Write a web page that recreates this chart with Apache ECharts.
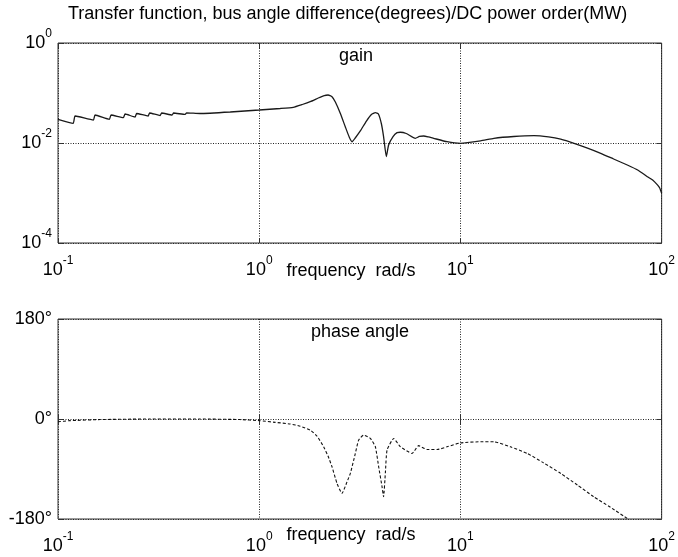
<!DOCTYPE html>
<html>
<head>
<meta charset="utf-8">
<script src="https://cdn.jsdelivr.net/npm/echarts@6/dist/echarts.min.js"></script>
<style>
html,body{margin:0;padding:0;background:#fff;}
#main{width:678px;height:557px;}
</style>
</head>
<body>
<div id="main"></div>
<script>
// ---- data ----
const gainFreq = [0.1, 0.119, 0.1216, 0.150, 0.1528, 0.180, 0.1835, 0.2113, 0.2155, 0.2415, 0.246, 0.2806, 0.2853, 0.3218, 0.3273, 0.369, 0.3754, 0.4285, 0.4356, 0.508, 0.718, 1.0, 1.272, 1.476, 1.637, 1.793, 1.966, 2.105, 2.20, 2.30, 2.39, 2.528, 2.68, 2.80, 2.892, 3.00, 3.18, 3.41, 3.61, 3.777, 3.91, 4.05, 4.15, 4.283, 4.396, 4.624, 4.842, 5.02, 5.38, 5.97, 6.25, 6.57, 6.93, 7.36, 8.58, 10, 12.59, 14.66, 18.4, 23.2, 27.4, 31.5, 36.7, 42.8, 49.8, 57.7, 67.5, 76.0, 84.9, 90.2, 95.3, 97.8, 100];
const gainMag = [0.0298, 0.0248, 0.0347, 0.0288, 0.0363, 0.0298, 0.0363, 0.0321, 0.038, 0.0331, 0.0389, 0.0347, 0.0398, 0.0355, 0.0398, 0.0363, 0.0398, 0.0372, 0.0402, 0.0389, 0.0417, 0.0457, 0.049, 0.0518, 0.0589, 0.067, 0.0794, 0.0891, 0.0912, 0.0843, 0.066, 0.0393, 0.0209, 0.0132, 0.0106, 0.0126, 0.0174, 0.0275, 0.0372, 0.0404, 0.038, 0.024, 0.0134, 0.00532, 0.00912, 0.0134, 0.0161, 0.0164, 0.0155, 0.0124, 0.0135, 0.0138, 0.0132, 0.0124, 0.0106, 0.00986, 0.011, 0.0124, 0.0135, 0.014, 0.0132, 0.0119, 0.00986, 0.0079, 0.00622, 0.00479, 0.00363, 0.00288, 0.00212, 0.00182, 0.00145, 0.00126, 0.00099];
const phaseFreq = [0.1, 0.1147, 0.1618, 0.287, 0.508, 0.804, 1.0, 1.20, 1.427, 1.60, 1.793, 1.94, 2.09, 2.20, 2.30, 2.436, 2.578, 2.732, 2.837, 3.004, 3.12, 3.305, 3.567, 3.777, 3.923, 4.078, 4.15, 4.236, 4.318, 4.66, 5.03, 5.75, 6.2, 6.83, 7.66, 8.586, 10, 12.59, 14.66, 17.7, 21.5, 25.9, 31.5, 38.2, 46.0, 55.7, 67.5];
const phaseDeg = [-5, -3, -1, 0, 0, -1, -3, -6, -9, -13, -20, -31, -50, -67, -86, -116, -134, -113, -98, -62, -38, -29, -35, -50, -86, -122, -140, -97, -56, -35, -50, -62, -48, -55, -55, -50, -43, -41, -41, -50, -62, -79, -98, -119, -140, -159, -179];
const freqRange = [0.1, 100];
const gainRange = [1e-4, 1];
const phaseRange = [-180, 180];
const phaseStep = 180;
const titleText = 'Transfer function, bus angle difference(degrees)/DC power order(MW)';
const gainLabel = 'gain';
const phaseLabel = 'phase angle';
const xName = 'frequency  rad/s';

const FONT = "'Liberation Sans Narrow', 'Liberation Sans', Arial, sans-serif";
const chart = echarts.init(document.getElementById('main'), null, {renderer: 'canvas'});

const pow10Rich = {
  b: {fontSize: 18, lineHeight: 30, fontFamily: FONT, color: '#000'},
  s: {fontSize: 12, lineHeight: 12, fontFamily: FONT, color: '#000', verticalAlign: 'top'}
};
const pow10Fmt = v => '{b|10}{s|' + Math.round(Math.log10(v)) + '}';

const gridStyle = {show: true, borderColor: '#333', borderWidth: 1, backgroundColor: 'transparent'};
const split = {show: true, lineStyle: {color: '#222', type: [1, 1.5], width: 1}};
const tick = {show: true, inside: true, length: 5, lineStyle: {color: '#333'}};

function xAx(gi, pos, labels) {
  return {
    type: 'log', logBase: 10, gridIndex: gi, position: pos, min: freqRange[0], max: freqRange[1],
    axisLine: {show: false}, axisTick: tick, splitLine: pos === 'bottom' ? split : {show: false},
    minorTick: {show: false},
    axisLabel: labels ? {show: true, margin: 12, formatter: pow10Fmt, rich: pow10Rich, fontFamily: FONT} : {show: false}
  };
}

const option = {
  animation: false,
  backgroundColor: '#fff',
  grid: [
    Object.assign({left: 58, top: 43, width: 604, height: 200}, gridStyle),
    Object.assign({left: 58, top: 319, width: 604, height: 200}, gridStyle)
  ],
  xAxis: [xAx(0, 'bottom', true), xAx(0, 'top', false), xAx(1, 'bottom', true), xAx(1, 'top', false)],
  yAxis: [
    {type: 'log', logBase: 10, gridIndex: 0, position: 'left', min: gainRange[0], max: gainRange[1], interval: 2,
     axisLine: {show: false}, axisTick: tick, splitLine: split, minorTick: {show: false},
     axisLabel: {margin: 6, formatter: pow10Fmt, rich: pow10Rich, fontFamily: FONT}},
    {type: 'log', logBase: 10, gridIndex: 0, position: 'right', min: gainRange[0], max: gainRange[1], interval: 2,
     axisLine: {show: false}, axisTick: tick, splitLine: {show: false}, axisLabel: {show: false}},
    {type: 'value', gridIndex: 1, position: 'left', min: phaseRange[0], max: phaseRange[1], interval: phaseStep,
     axisLine: {show: false}, axisTick: tick, splitLine: split,
     axisLabel: {margin: 6, formatter: v => v + '°', fontSize: 18, fontFamily: FONT, color: '#000'}},
    {type: 'value', gridIndex: 1, position: 'right', min: phaseRange[0], max: phaseRange[1], interval: phaseStep,
     axisLine: {show: false}, axisTick: tick, splitLine: {show: false}, axisLabel: {show: false}}
  ],
  series: [
    {type: 'line', xAxisIndex: 0, yAxisIndex: 0, showSymbol: false, symbol: 'none',
     smooth: 0.15,
     lineStyle: {color: '#1a1a1a', width: 1.3},
     data: gainFreq.map((f, i) => [f, gainMag[i]])},
    {type: 'line', xAxisIndex: 2, yAxisIndex: 2, showSymbol: false, symbol: 'none',
     smooth: 0.15, clip: true,
     lineStyle: {color: '#111', width: 1.1, type: [3, 2]},
     data: phaseFreq.map((f, i) => [f, phaseDeg[i]])}
  ],
  graphic: [
    {type: 'text', x: 68, y: 14, style: {text: titleText, font: '18px ' + FONT, fill: '#000', verticalAlign: 'middle', align: 'left'}},
    {type: 'text', x: 356, y: 56, style: {text: gainLabel, font: '18px ' + FONT, fill: '#000', verticalAlign: 'middle', align: 'center'}},
    {type: 'text', x: 360, y: 332, style: {text: phaseLabel, font: '18px ' + FONT, fill: '#000', verticalAlign: 'middle', align: 'center'}},
    {type: 'text', x: 351, y: 271, style: {text: xName, font: '18px ' + FONT, fill: '#000', verticalAlign: 'middle', align: 'center'}},
    {type: 'text', x: 351, y: 535, style: {text: xName, font: '18px ' + FONT, fill: '#000', verticalAlign: 'middle', align: 'center'}}
  ]
};
chart.setOption(option);
</script>
</body>
</html>
